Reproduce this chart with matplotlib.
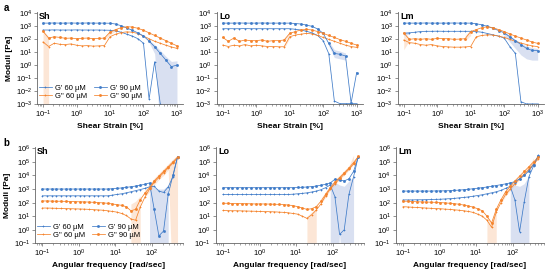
import numpy as np
import matplotlib
matplotlib.use("Agg")
import matplotlib.pyplot as plt
from matplotlib.ticker import LogLocator, NullFormatter

plt.rcParams['font.family'] = ['Liberation Sans', 'DejaVu Sans']
plt.rcParams['mathtext.fontset'] = 'custom'
plt.rcParams['mathtext.rm'] = 'Liberation Sans'
plt.rcParams['mathtext.it'] = 'Liberation Sans:italic'
plt.rcParams['mathtext.bf'] = 'Liberation Sans:bold'

nan = np.nan
# ---------------- x grids ----------------
strain = np.logspace(-1, 3, 25)      # shear strain [%]
freq = np.logspace(-1, 2.7, 30)      # angular frequency [rad/s]

# ---------------- amplitude sweeps (log10 Pa) ----------------
a_sh_Gp90 = [3.25, 3.25, 3.26, 3.25, 3.25, 3.26, 3.25, 3.25, 3.26, 3.25, 3.25, 3.25, 3.24,
             3.18, 3.05, 2.88, 2.7, 2.5, 2.26, 1.87, 1.43, 0.92, 0.41, -0.1, 0.02]
a_sh_Gp60 = [2.72, 2.72, 2.73, 2.72, 2.72, 2.72, 2.73, 2.72, 2.72, 2.72, 2.72, 2.71, 2.7,
             2.65, 2.55, 2.4, 2.25, 2.05, 1.7, -2.6, 0.28, -2.95, nan, nan, nan]
a_sh_Gpp90 = [2.62, 2.1, 2.2, 2.15, 2.08, 2.1, 2.05, 2.08, 2.1, 2.05, 2.07, 2.1, 2.55,
              2.75, 2.9, 2.97, 2.95, 2.85, 2.7, 2.5, 2.3, 2.1, 1.9, 1.7, 1.5]
a_sh_Gpp60 = [1.8, 1.45, 1.7, 1.62, 1.6, 1.65, 1.55, 1.5, 1.52, 1.48, 1.5, 1.52, 2.2,
              2.4, 2.52, 2.58, 2.55, 2.45, 2.25, 2.05, 1.85, 1.7, 1.55, 1.42, 1.3]

a_lo_Gp90 = [3.25, 3.25, 3.25, 3.26, 3.25, 3.25, 3.25, 3.26, 3.25, 3.25, 3.25, 3.25, 3.25,
             3.22, 3.18, 3.1, 3.0, 2.8, 2.46, 1.69, 0.92, 0.85, 0.72, -2.9, -0.56]
a_lo_Gp60 = [2.82, 2.82, 2.82, 2.82, 2.83, 2.82, 2.82, 2.82, 2.82, 2.82, 2.82, 2.82, 2.82,
             2.78, 2.72, 2.62, 2.5, 2.3, 1.9, 0.9, -2.75, -2.95, -2.95, -2.95, -2.95]
a_lo_Gpp90 = [2.15, 1.85, 2.1, 1.85, 1.95, 1.9, 1.9, 1.95, 1.85, 1.9, 1.9, 1.95, 2.46,
              2.6, 2.72, 2.77, 2.72, 2.6, 2.46, 2.3, 2.15, 1.98, 1.85, 1.7, 1.56]
a_lo_Gpp60 = [1.56, 1.45, 1.55, 1.5, 1.6, 1.5, 1.55, 1.5, 1.45, 1.45, 1.43, 1.43, 2.2,
              2.33, 2.4, 2.46, 2.42, 2.3, 2.15, 2.0, 1.85, 1.7, 1.55, 1.45, 1.38]

a_lm_Gp90 = [3.25, 3.25, 3.25, 3.25, 3.26, 3.25, 3.25, 3.25, 3.25, 3.26, 3.25, 3.25, 3.25,
             3.2, 3.12, 3.0, 2.85, 2.68, 2.5, 2.2, 1.9, 1.6, 1.3, 1.15, 1.13]
a_lm_Gp60 = [2.46, 2.5, 2.55, 2.6, 2.62, 2.62, 2.63, 2.62, 2.62, 2.62, 2.62, 2.62, 2.62,
             2.6, 2.55, 2.45, 2.35, 2.25, 2.1, 1.45, 0.92, -2.8, -2.97, -2.97, -2.97]
a_lm_Gpp90 = [2.5, 2.0, 2.05, 2.0, 2.05, 2.0, 2.08, 2.05, 2.05, 2.0, 2.02, 2.05, 2.6,
              2.75, 2.9, 2.97, 2.9, 2.75, 2.6, 2.42, 2.25, 2.1, 1.95, 1.8, 1.69]
a_lm_Gpp60 = [1.95, 1.75, 1.7, 1.6, 1.55, 1.6, 1.5, 1.45, 1.42, 1.4, 1.4, 1.42, 1.45,
              2.2, 2.3, 2.35, 2.33, 2.25, 2.15, 2.0, 1.85, 1.72, 1.6, 1.5, 1.44]

# ---------------- frequency sweeps (log10 Pa) ----------------
b_sh_Gp90 = [3.0, 3.0, 3.0, 3.0, 3.0, 3.0, 3.0, 3.0, 3.0, 3.0, 3.0, 3.0, 3.0, 3.0, 3.0,
             3.02, 3.05, 3.08, 3.12, 3.17, 3.22, 3.28, 3.35, 3.45, 1.5, -0.45, -0.1, 2.6, 4.0, 5.38]
b_sh_Gp60 = [2.5, 2.5, 2.5, 2.5, 2.5, 2.5, 2.5, 2.5, 2.5, 2.5, 2.5, 2.5, 2.5, 2.5, 2.5,
             2.55, 2.6, 2.65, 2.72, 2.8, 2.88, 2.96, 3.05, 3.16, 3.2, 2.85, 2.75, 3.15, 3.9, 5.35]
b_sh_Gpp90 = [2.12, 2.12, 2.11, 2.1, 2.1, 2.09, 2.08, 2.07, 2.06, 2.05, 2.04, 2.02, 2.0, 1.98, 1.95,
              1.9, 1.85, 1.8, 1.7, 1.4, 1.5, 2.2, 2.7, 3.1, 3.6, 3.95, 4.3, 4.65, 5.0, 5.35]
b_sh_Gpp60 = [1.6, 1.6, 1.59, 1.58, 1.57, 1.56, 1.55, 1.54, 1.53, 1.52, 1.5, 1.48, 1.46, 1.44, 1.4,
              1.35, 1.3, 1.2, 1.05, 0.8, 0.7, 1.67, 2.4, 3.0, 3.5, 3.85, 4.2, 4.55, 4.9, 5.3]

b_lo_Gp90 = [3.1, 3.1, 3.1, 3.1, 3.1, 3.1, 3.1, 3.1, 3.1, 3.1, 3.1, 3.1, 3.1, 3.1, 3.1,
             3.1, 3.12, 3.13, 3.15, 3.18, 3.22, 3.28, 3.35, 3.45, 3.72, 3.66, 3.6, 3.75, 4.3, 5.35]
b_lo_Gp60 = [2.6, 2.6, 2.6, 2.6, 2.6, 2.6, 2.6, 2.6, 2.6, 2.6, 2.6, 2.6, 2.6, 2.6, 2.6,
             2.62, 2.65, 2.68, 2.72, 2.78, 2.85, 2.95, 3.1, 3.3, 2.43, -0.35, 0.0, 2.6, 3.9, 5.38]
b_lo_Gpp90 = [1.95, 1.95, 1.93, 1.93, 1.92, 1.92, 1.91, 1.9, 1.9, 1.9, 1.89, 1.88, 1.87, 1.85, 1.82,
              1.78, 1.7, 1.6, 1.5, 1.55, 1.7, 2.1, 2.6, 3.1, 3.5, 3.85, 4.2, 4.55, 4.95, 5.4]
b_lo_Gpp60 = [1.42, 1.41, 1.4, 1.4, 1.39, 1.38, 1.37, 1.36, 1.35, 1.34, 1.33, 1.32, 1.3, 1.28, 1.25,
              1.2, 1.15, 1.0, 0.84, 1.1, 1.45, 1.9, 2.5, 3.0, 3.4, 3.75, 4.1, 4.45, 4.85, 5.35]

b_lm_Gp90 = [2.85, 2.85, 2.85, 2.85, 2.85, 2.85, 2.85, 2.86, 2.86, 2.87, 2.88, 2.9, 2.92, 2.95, 2.98,
             3.02, 3.06, 3.1, 3.15, 3.2, 3.26, 3.32, 3.38, 3.45, 3.55, 3.75, 4.0, 4.35, 4.8, 5.4]
b_lm_Gp60 = [2.2, 2.2, 2.2, 2.21, 2.21, 2.22, 2.23, 2.24, 2.25, 2.27, 2.29, 2.31, 2.35, 2.38, 2.42,
             2.47, 2.52, 2.58, 2.65, 2.72, 2.8, 2.9, 3.05, 3.2, 2.19, -0.15, 2.07, 3.9, 4.7, 5.5]
b_lm_Gpp90 = [2.1, 2.1, 2.08, 2.06, 2.05, 2.04, 2.03, 2.02, 2.0, 1.98, 1.95, 1.92, 1.88, 1.82, 1.75,
              1.67, 1.55, 1.4, 1.0, 0.5, 1.5, 2.2, 2.8, 3.2, 3.6, 3.95, 4.3, 4.65, 5.0, 5.35]
b_lm_Gpp60 = [1.7, 1.68, 1.66, 1.64, 1.62, 1.6, 1.58, 1.56, 1.55, 1.52, 1.5, 1.47, 1.44, 1.4, 1.35,
              1.28, 1.15, 1.0, 0.7, 0.18, 1.3, 2.0, 2.6, 3.0, 3.4, 3.75, 4.1, 4.45, 4.85, 5.2]

# ---------------- error bands: (series, first index, lower log10, upper log10) ----------------
bands_a_sh = [("Gpp90", 0, [-5, -5], [2.7, 2.2]),
              ("Gpp90", 11, [1.95, 2.35, 2.65], [2.2, 2.7, 2.85]),
              ("Gp90", 19, [1.75, 0.9, -5, -5, -5, -5], [1.95, 1.6, 1.15, 0.7, 0.3, 0.35])]
bands_a_lo = [("Gpp90", 11, [1.85, 2.3], [2.05, 2.6]),
              ("Gpp60", 11, [1.3, 2.1], [1.55, 2.3]),
              ("Gp90", 19, [1.5, 0.6, 0.5, 0.4], [1.85, 1.2, 1.1, 0.95])]
bands_a_lm = [("Gpp90", 0, [1.2, 1.9], [2.6, 2.1]),
              ("Gp60", 0, [2.3, 2.4], [2.6, 2.6]),
              ("Gpp90", 11, [1.9, 2.3], [2.3, 2.7]),
              ("Gp90", 18, [2.3, 1.8, 1.3, 0.8, 0.5, 0.4, 0.4], [2.6, 2.3, 2.0, 1.7, 1.5, 1.35, 1.3])]
bands_b_sh = [("Gpp60", 19, [-5, -5, -5], [1.9, 2.1, 2.5]),
              ("Gpp90", 22, [2.4, 2.8, 3.3, 3.7, 4.0, 4.4, -5, -5], [2.95, 3.35, 3.8, 4.15, 4.5, 4.85, 5.2, 5.5]),
              ("Gp90", 23, [-5, -5, -5, -5, -5], [3.4, 3.1, 3.0, 3.0, 3.3])]
bands_b_lo = [("Gpp60", 18, [-5, -5, -5], [1.0, 1.3, 1.6]),
              ("Gpp90", 21, [1.9, 2.4, 2.9, 3.3, 3.7, 4.0, 4.4, 4.8], [2.3, 2.8, 3.3, 3.7, 4.0, 4.35, 4.7, 5.5]),
              ("Gp60", 23, [-5, -5, -0.3, -5, -5, -5], [3.45, 3.5, 3.3, 3.2, 3.6, 3.9])]
bands_b_lm = [("Gpp60", 18, [-5, -5, -5], [1.0, 0.6, 1.5]),
              ("Gpp90", 21, [1.9, 2.5, 2.9, 3.3, 3.7, 4.0, 4.4, 4.8], [2.3, 2.9, 3.3, 3.7, 4.0, 4.35, 4.7, 5.3]),
              ("Gp60", 23, [-5, -5, -5, -5, -5], [3.5, 3.3, 3.2, 3.4, 4.0])]

labels = {"Gp60": "G' 60 µM", "Gpp60": 'G" 60 µM', "Gp90": "G' 90 µM", "Gpp90": 'G" 90 µM'}
BLUE = '#3f7bc8'
ORANGE = '#f5832b'
colors = {"Gp60": BLUE, "Gp90": BLUE, "Gpp60": ORANGE, "Gpp90": ORANGE}
markers = {"Gp60": '+', "Gpp60": '+', "Gp90": 'o', "Gpp90": 'o'}
band_colors = {BLUE: '#b4c2e4', ORANGE: '#fbcfae'}

panels = [
    ("a", "Sh", strain, {"Gp60": a_sh_Gp60, "Gpp60": a_sh_Gpp60, "Gp90": a_sh_Gp90, "Gpp90": a_sh_Gpp90}, bands_a_sh),
    ("a", "Lo", strain, {"Gp60": a_lo_Gp60, "Gpp60": a_lo_Gpp60, "Gp90": a_lo_Gp90, "Gpp90": a_lo_Gpp90}, bands_a_lo),
    ("a", "Lm", strain, {"Gp60": a_lm_Gp60, "Gpp60": a_lm_Gpp60, "Gp90": a_lm_Gp90, "Gpp90": a_lm_Gpp90}, bands_a_lm),
    ("b", "Sh", freq, {"Gp60": b_sh_Gp60, "Gpp60": b_sh_Gpp60, "Gp90": b_sh_Gp90, "Gpp90": b_sh_Gpp90}, bands_b_sh),
    ("b", "Lo", freq, {"Gp60": b_lo_Gp60, "Gpp60": b_lo_Gpp60, "Gp90": b_lo_Gp90, "Gpp90": b_lo_Gpp90}, bands_b_lo),
    ("b", "Lm", freq, {"Gp60": b_lm_Gp60, "Gpp60": b_lm_Gpp60, "Gp90": b_lm_Gp90, "Gpp90": b_lm_Gpp90}, bands_b_lm),
]

W, H = 546, 271
fig = plt.figure(figsize=(W / 100, H / 100), dpi=100)

top_lefts = [37, 216.7, 397.7]
bot_lefts = [35, 215.7, 395.7]

GRAY = '#666666'
for i, (row, name, x, series, bands) in enumerate(panels):
    col = i % 3
    if row == "a":
        rect = [top_lefts[col] / W, 1 - 104.3 / H, 146 / W, 92.4 / H]
    else:
        rect = [bot_lefts[col] / W, 1 - 243.3 / H, 148 / W, 96.5 / H]
    ax = fig.add_axes(rect)
    ax.set_xscale('log')
    ax.set_yscale('log')
    for key, k0, lo, hi in bands:
        c = band_colors[colors[key]]
        xs = x[k0:k0 + len(lo)]
        ax.fill_between(xs, 10.0 ** np.array(lo, float), 10.0 ** np.array(hi, float),
                        color=c, alpha=0.5, lw=0, zorder=1)
    for key in ["Gp60", "Gpp60", "Gp90", "Gpp90"]:
        y = 10.0 ** np.array(series[key], float)
        ax.plot(x, y, color=colors[key], lw=0.55, marker=markers[key],
                ms=1.5 if markers[key] == 'o' else 2.0, mew=0.5, label=labels[key], zorder=2)
    if row == "a":
        ax.set_xlim(10 ** -1.18, 10 ** 3.18)
        ax.set_ylim(1e-3, 1.3e4)
        ax.set_xlabel("Shear Strain [%]", fontsize=6, fontweight='bold', labelpad=2)
    else:
        ax.set_xlim(10 ** -1.2, 10 ** 2.85)
        ax.set_ylim(1e-1, 1.3e6)
        ax.set_xlabel("Angular frequency [rad/sec]", fontsize=6, fontweight='bold', labelpad=2)
    ax.xaxis.set_major_locator(LogLocator(base=10, numticks=20))
    ax.xaxis.set_minor_locator(LogLocator(base=10, subs=np.arange(2, 10), numticks=20))
    ax.xaxis.set_minor_formatter(NullFormatter())
    ax.yaxis.set_major_locator(LogLocator(base=10, numticks=20))
    ax.yaxis.set_minor_locator(plt.NullLocator())
    for s in ['top', 'right']:
        ax.spines[s].set_visible(False)
    for s in ['left', 'bottom']:
        ax.spines[s].set_color(GRAY)
        ax.spines[s].set_linewidth(0.6)
    ax.tick_params(axis='both', which='major', labelsize=5.5, length=2, width=0.5, color=GRAY, pad=1.5)
    ax.tick_params(axis='x', which='minor', length=1.2, width=0.4, color=GRAY)
    ax.text(0.015, 1.0, name, transform=ax.transAxes, fontsize=6.5, fontweight='bold', va='top', ha='left')
    if col == 0:
        ax.set_ylabel("Moduli [Pa]", fontsize=6, fontweight='bold', labelpad=2)
        ax.legend(loc='lower left', bbox_to_anchor=(0.0, 0.02), ncol=2, fontsize=5.5, frameon=False,
                  handlelength=1.6, handletextpad=0.4, columnspacing=1.0, labelspacing=0.15,
                  borderpad=0.2, borderaxespad=0.1)

fig.text(0.006, 0.99, 'a', fontsize=7, fontweight='bold', va='top', ha='left')
fig.text(0.006, 0.49, 'b', fontsize=7, fontweight='bold', va='top', ha='left')

fig.savefig('out.png', dpi=100)
